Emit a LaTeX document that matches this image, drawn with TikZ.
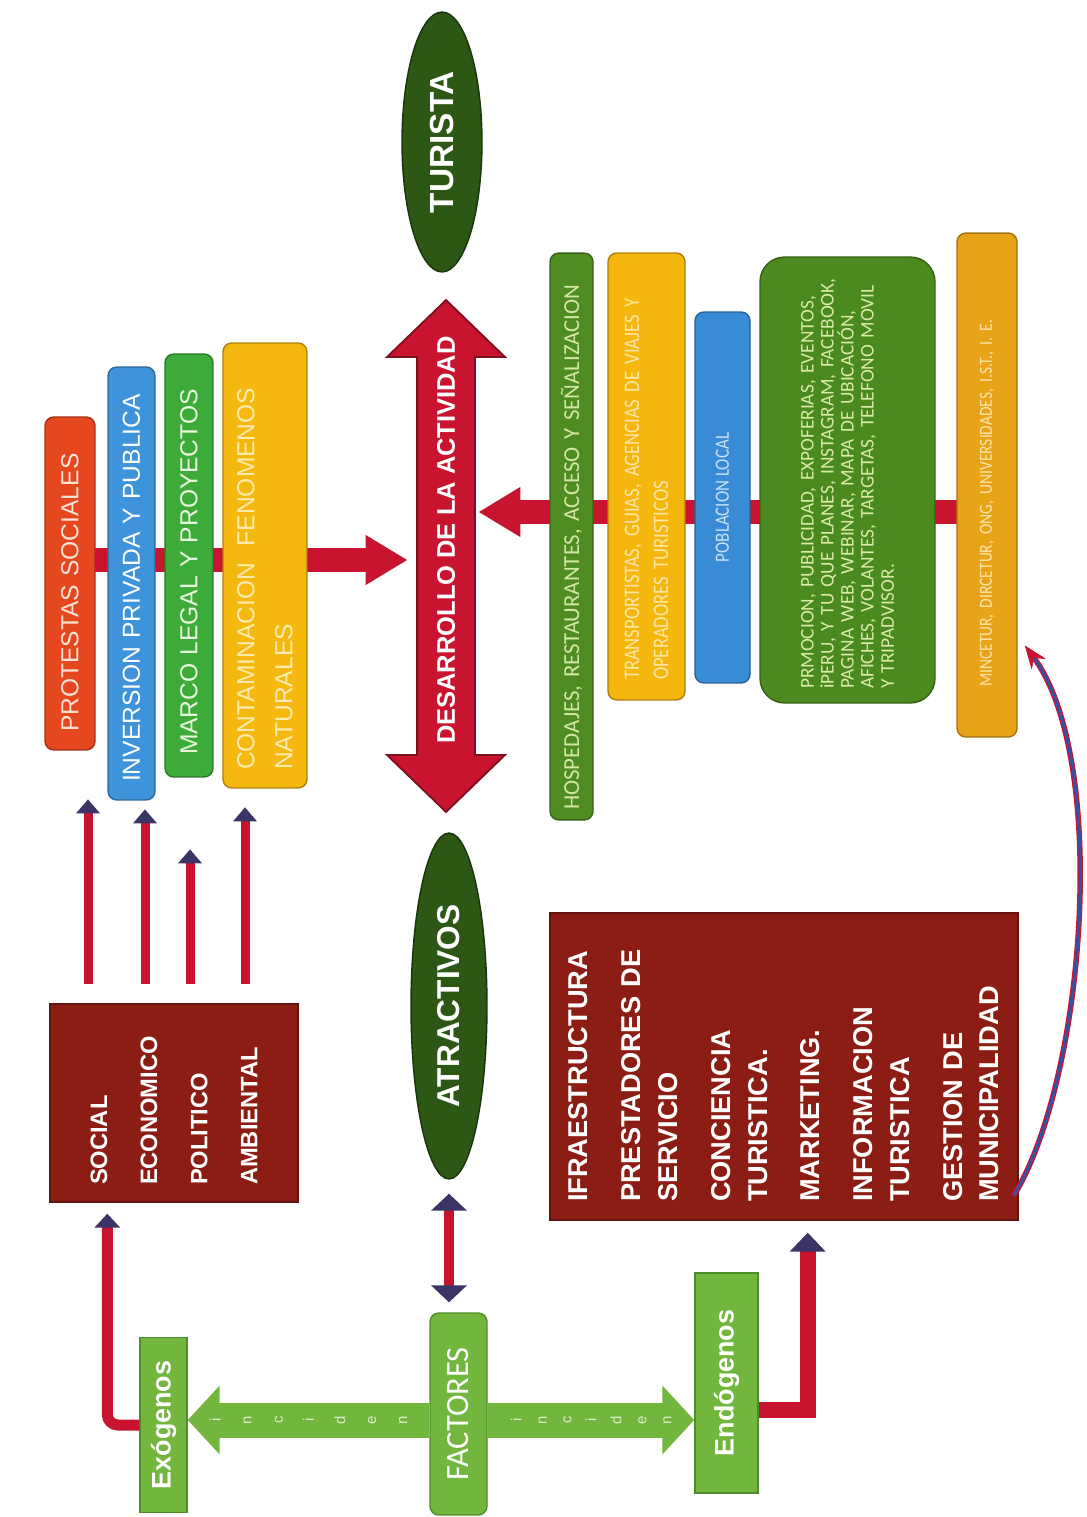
\documentclass[tikz,border=0pt]{standalone}
\usepackage{fontspec}
\setmainfont{Liberation Sans}
\newfontfamily\calibri{Carlito}
\newfontfamily\calibricond[FakeStretch=0.84]{Carlito}
\usetikzlibrary{calc,arrows.meta,shapes.geometric}
\pgfdeclarelayer{background}
\pgfsetlayers{background,main}

\definecolor{boxbrown}{HTML}{8C1D14}
\definecolor{crimson}{HTML}{C9142F}
\definecolor{darkcrim}{HTML}{7A0F1F}
\definecolor{tipnavy}{HTML}{3A3566}
\definecolor{ovalgreen}{HTML}{2C5714}
\definecolor{lightgreen}{HTML}{72B63D}
\definecolor{edgegreen}{HTML}{4F8D2C}
\definecolor{incidtext}{HTML}{D9EEC6}
\definecolor{protred}{HTML}{E5471F}
\definecolor{prottext}{HTML}{FBE2D6}
\definecolor{invblue}{HTML}{3F93DA}
\definecolor{marcogreen}{HTML}{3DAB3A}
\definecolor{marcotext}{HTML}{EAF6E2}
\definecolor{contyellow}{HTML}{F5B80F}
\definecolor{conttext}{HTML}{FDEBB0}
\definecolor{hospgreen}{HTML}{4F8C22}
\definecolor{hosptext}{HTML}{D3E6A4}
\definecolor{transyellow}{HTML}{F5B60E}
\definecolor{transtext}{HTML}{FDE7A8}
\definecolor{poblblue}{HTML}{3A8BD5}
\definecolor{pobltext}{HTML}{C9E0F4}
\definecolor{promgreen}{HTML}{4A8A1F}
\definecolor{promtext}{HTML}{DCEAA8}
\definecolor{minorange}{HTML}{E8A319}
\definecolor{mintext}{HTML}{FCE6AE}
\definecolor{curveblue}{HTML}{3A4FA0}

\tikzset{
	colbar/.style={rectangle, rounded corners=5pt, rotate=90, fill=#1, draw=#1!70!black, line width=0.8pt, align=left},
	brownbox/.style={rectangle, rotate=90, fill=boxbrown, draw=boxbrown!70!black, line width=0.8pt, text=white, align=left},
	oval/.style={ellipse, rotate=90, fill=ovalgreen, draw=ovalgreen!60!black, line width=0.8pt, text=white},
	greenbox/.style={rectangle, rotate=90, fill=lightgreen, draw=edgegreen, line width=0.8pt, text=white},
	thinred/.style={draw=crimson, line width=0.18cm, -{Triangle[width=0.46cm,length=0.28cm,color=tipnavy]}},
	lred/.style={draw=crimson, line width=0.22cm, -{Triangle[width=0.5cm,length=0.28cm,color=tipnavy]}},
	dblred/.style={draw=crimson, line width=0.2cm, {Triangle[width=0.7cm,length=0.34cm,color=tipnavy]}-{Triangle[width=0.7cm,length=0.34cm,color=tipnavy]}},
	sidered/.style={draw=crimson, line width=0.48cm, -{Triangle[width=0.94cm,length=0.84cm]}},
	greenarr/.style={draw=lightgreen, line width=0.7cm, -{Triangle[width=1.34cm,length=0.64cm]}},
	incid/.style={rotate=90, align=center, text=incidtext, inner sep=0pt, font=\fontsize{8.5}{#1}\selectfont},
	curvearr/.style={draw=curveblue, line width=0.06cm, -{Stealth[length=0.45cm,width=0.34cm,color=crimson]}, preaction={draw=crimson, line width=0.11cm}}
}

\begin{document}
\begin{tikzpicture}[x=0.02cm, y=-0.02cm]
			%%%%% START %%%%%
			\begin{pgfonlayer}{background}
				\fill[white] (0,0) rectangle (1087,1517);
			\end{pgfonlayer}
			\useasboundingbox (0,0) rectangle (1087,1517);
			
			% factores externos
			\node[colbar=protred, text=prottext, font=\fontsize{14}{17}\selectfont, text width=5.94cm, inner xsep=0.36cm, minimum height=1.0cm] (prot) at (70,583.5) {PROTESTAS SOCIALES};
			\node[colbar=invblue, text=white, font=\fontsize{14}{17}\selectfont, text width=7.94cm, inner xsep=0.36cm, minimum height=0.94cm] (inv) at (131.5,583.5) {INVERSION PRIVADA Y PUBLICA};
			\node[colbar=marcogreen, text=marcotext, font=\fontsize{14}{17}\selectfont, text width=7.58cm, inner xsep=0.44cm, minimum height=0.96cm] (marco) at (189,565.5) {MARCO LEGAL Y PROYECTOS};
			\node[colbar=contyellow, text=conttext, font=\fontsize{14}{21.6}\selectfont, text width=8.18cm, inner xsep=0.36cm, minimum height=1.68cm] (cont) at (265,565.5) {CONTAMINACION\ \ FENOMENOS\\NATURALES};
			
			% desarrollo
			\draw[fill=crimson, draw=darkcrim, line width=1pt] (446,300) -- (505,357) -- (475,357) -- (475,755) -- (505,755) -- (446,812) -- (387,755) -- (417,755) -- (417,357) -- (387,357) -- cycle;
			\node[rotate=90, minimum width=7.96cm, minimum height=1.16cm, text=white, font=\bfseries\fontsize{14.5}{17}\selectfont] (des) at (446,540) {DESARROLLO DE LA ACTIVIDAD};
			
			\node[oval, minimum width=5.2cm, minimum height=1.6cm, font=\bfseries\fontsize{19}{22}\selectfont] (tur) at (442,142) {TURISTA};
			\node[oval, minimum width=6.92cm, minimum height=1.52cm, font=\bfseries\fontsize{18}{21}\selectfont] (atr) at (449,1006) {ATRACTIVOS};
			
			% servicios
			\node[colbar=hospgreen, text=hosptext, font=\calibri\fontsize{13}{15}\selectfont, text width=10.94cm, inner xsep=0.2cm, minimum height=0.86cm] (hosp) at (571.5,536.5) {HOSPEDAJES, RESTAURANTES, ACCESO Y SEÑALIZACION};
			\node[colbar=transyellow, text=transtext, font=\calibricond\fontsize{12.6}{16.5}\selectfont, text width=8.14cm, inner xsep=0.4cm, minimum height=1.54cm] (trans) at (646.5,476.5) {TRANSPORTISTAS, GUIAS, AGENCIAS DE VIAJES Y\\OPERADORES TURISTICOS};
			\node[colbar=poblblue, text=pobltext, align=center, font=\calibricond\fontsize{11.5}{13}\selectfont, minimum width=7.42cm, minimum height=1.1cm] (pobl) at (722.5,497.5) {POBLACION LOCAL};
			\node[colbar=promgreen, rounded corners=14pt, text=promtext, font=\calibri\fontsize{11}{11.4}\selectfont, text width=8.36cm, inner xsep=0.28cm, minimum height=3.5cm] (prom) at (847.5,480) {PRMOCION, PUBLICIDAD, EXPOFERIAS, EVENTOS,\\iPERU, Y TU QUE PLANES, INSTAGRAM, FACEBOOK,\\PAGINA WEB, WEBINAR, MAPA DE UBICACIÓN,\\AFICHES, VOLANTES, TARGETAS, TELEFONO MOVIL\\Y TRIPADVISOR.};
			\node[colbar=minorange, text=mintext, font=\calibricond\fontsize{10.5}{12}\selectfont, text width=8.08cm, inner xsep=1.0cm, minimum height=1.2cm] (minc) at (987,485) {MINCETUR, DIRCETUR, ONG, UNIVERSIDADES, I.S.T., I. E.};
			
			% cajas de factores
			\node[brownbox, font=\bfseries\fontsize{13.5}{28.5}\selectfont, text width=3.28cm, inner xsep=0.34cm, minimum height=4.96cm] (soc) at (174,1103) {SOCIAL\\ECONOMICO\\POLITICO\\AMBIENTAL};
			\node[brownbox, font=\bfseries\fontsize{15.5}{21}\selectfont, text width=5.42cm, inner xsep=0.36cm, minimum height=9.36cm] (infra) at (784,1066.5) {IFRAESTRUCTURA\\[9pt]PRESTADORES DE\\SERVICIO\\[9pt]CONCIENCIA\\TURISTICA.\\[9pt]MARKETING.\\[9pt]INFORMACION\\TURISTICA\\[9pt]GESTION DE\\MUNICIPALIDAD};
			
			\node[greenbox, minimum width=3.5cm, minimum height=0.94cm, font=\bfseries\fontsize{15.3}{18}\selectfont] (exo) at (163.5,1425) {Exógenos};
			\node[greenbox, rounded corners=5pt, minimum width=4.04cm, minimum height=1.14cm, font=\calibri\fontsize{18.5}{21}\selectfont] (fact) at (458.5,1414) {FACTORES};
			\node[greenbox, minimum width=4.4cm, minimum height=1.26cm, font=\bfseries\fontsize{15.3}{18}\selectfont] (endo) at (726.5,1383) {Endógenos};
			
			% flechas
			\coordinate (gl) at ($(fact.north)+(0,6)$);
			\coordinate (gr) at ($(fact.south)+(0,6)$);
			\draw[greenarr] (gl) -- (gl -| exo.south);
			\draw[greenarr] (gr) -- (gr -| endo.north);
			\path (gl) -- (gl -| exo.south) node[midway, incid=17.7pt] (incl) {i\\n\\c\\i\\d\\e\\n};
			\path (gr) -- (gr -| endo.north) node[midway, incid=14.2pt] (incr) {i\\n\\c\\i\\d\\e\\n};
			
			\draw[dblred] ($(atr.west)+(0,14)$) -- ($(atr.west |- fact.east)+(0,-10)$);
			
			\draw[lred, rounded corners=6pt] (exo.north) -| ($(exo.north |- soc.west)+(-32,11)$);
			\draw[lred, line width=0.32cm, -{Triangle[width=0.7cm,length=0.38cm,color=tipnavy]}] ($(endo.south)+(0,27)$) -| ($(endo.south |- infra.west)+(49,12)$);
			
			\foreach \dx/\dy in {-86/-204, -29/-194, 16/-154, 71/-196}
				\draw[thinred] ($(soc.east)+(\dx,-19)$) -- ($(soc.east)+(\dx,\dy)$);
			
			\draw[curvearr] ($(infra.south west)+(-5,-25)$) .. controls (1085,1080) and (1110,760) .. ($(minc.west)+(38,-92)$);
			
			\begin{pgfonlayer}{background}
				\coordinate (bandL) at (75,560);
				\coordinate (bandR) at (985,512);
				\draw[sidered, shorten >=0.18cm] (bandL) -- (bandL -| des.north);
				\draw[sidered, shorten >=0.06cm] (bandR) -- (bandR -| des.south);
			\end{pgfonlayer}
			%%%%% END %%%%%
\end{tikzpicture}
\end{document}
